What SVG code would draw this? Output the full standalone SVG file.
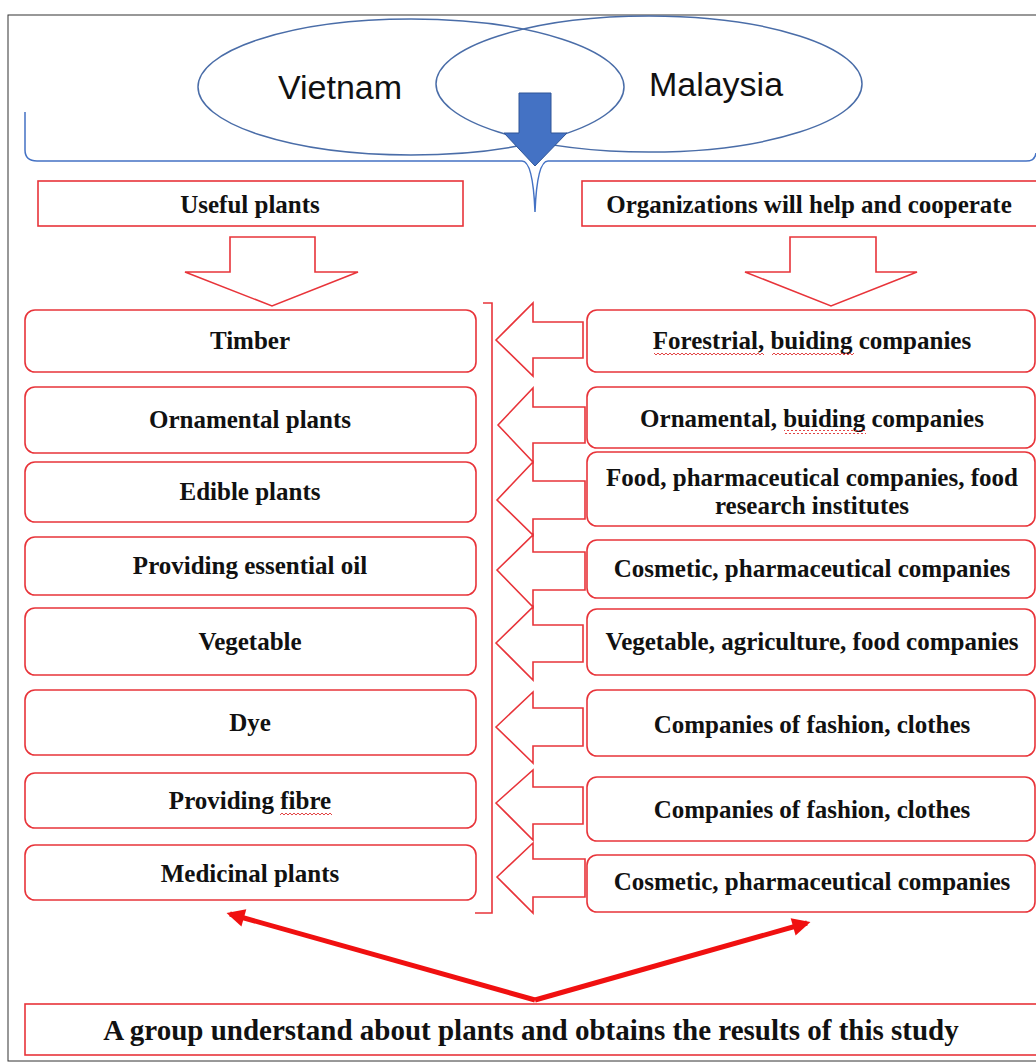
<svg xmlns="http://www.w3.org/2000/svg" width="1036" height="1063" viewBox="0 0 1036 1063">
<style>
.box{fill:#fff;stroke:#E8343A;stroke-width:1.6}
.harrow{fill:#fff;stroke:#E8343A;stroke-width:1.6;stroke-linejoin:miter}
.t{font-family:"Liberation Serif","Times New Roman",serif;font-weight:bold;font-size:25px;fill:#111;text-anchor:middle}
.big{font-family:"Liberation Sans",Arial,sans-serif;font-size:34px;fill:#111;text-anchor:middle}
.ell{fill:none;stroke:#4A6DA8;stroke-width:1.5}
.wave{fill:url(#wv)}
</style>
<defs>
<pattern id="wv" width="4" height="4" patternUnits="userSpaceOnUse">
<path d="M0,3 L2,1 L4,3" fill="none" stroke="#E03030" stroke-width="0.9"/>
</pattern>
<marker id="rh" viewBox="0 0 10 10" refX="8" refY="5" markerWidth="4" markerHeight="3.6" orient="auto" markerUnits="strokeWidth">
<path d="M0,0 L10,5 L0,10 z" fill="#F01010"/>
</marker>
</defs>
<rect x="8" y="15" width="1040" height="1046" fill="none" stroke="#333" stroke-width="1"/>
<g id="top">
<ellipse class="ell" cx="411" cy="87" rx="213" ry="68"/>
<ellipse class="ell" cx="649" cy="84" rx="213" ry="68"/>
<text class="big" x="340" y="99">Vietnam</text>
<text class="big" x="716" y="96">Malaysia</text>
<path d="M25,112 L25,150 Q25,161 37,161 L522,161 Q533,161 535,212 Q537,161 548,161 L1026,161 Q1035,161 1036,153" fill="none" stroke="#4472C4" stroke-width="1.5"/>
<polygon points="519,93 551,93 551,133 567,133 535,166 504,133 519,133" fill="#4472C4" stroke="#2F5597" stroke-width="1"/>
</g>
<g id="header-left"><rect class="box" x="38" y="181" width="425" height="45"/><text class="t" x="250" y="213">Useful plants</text></g>
<g id="header-right"><rect class="box" x="582" y="181" width="460" height="45"/><text class="t" x="809" y="213">Organizations will help and cooperate</text></g>
<g id="connectors">
<polygon class="harrow" points="230,237 315,237 315,272 358,272 272,306 185,272 230,272"/>
<polygon class="harrow" points="790,237 876,237 876,272 917,272 831,306 745,272 790,272"/>
<path d="M483,303 L492,303 L492,913 L475,913" fill="none" stroke="#E8343A" stroke-width="1.6"/>
<polygon class="harrow" points="496,340 533,303 533,322 583,322 583,358 533,358 533,376"/>
<polygon class="harrow" points="498,425 533,388 533,407 585,407 585,443 533,443 533,462"/>
<polygon class="harrow" points="497,500 533,462 533,481 585,481 585,519 533,519 533,535"/>
<polygon class="harrow" points="497,570 533,535 533,552 585,552 585,590 533,590 533,607"/>
<polygon class="harrow" points="496,643 533,607 533,625 583,625 583,662 533,662 533,680"/>
<polygon class="harrow" points="496,727 533,692 533,708 583,708 583,746 533,746 533,763"/>
<polygon class="harrow" points="496,803 533,770 533,787 583,787 583,824 533,824 533,840"/>
<polygon class="harrow" points="497,877 533,843 533,859 585,859 585,897 533,897 533,913"/>
<line x1="535" y1="1000" x2="230" y2="914" stroke="#F01010" stroke-width="5" marker-end="url(#rh)"/>
<line x1="535" y1="1000" x2="807" y2="923" stroke="#F01010" stroke-width="5" marker-end="url(#rh)"/>
</g>
<g id="l1"><rect class="box" x="25" y="310" width="451" height="62" rx="10"/><text class="t" x="250" y="349">Timber</text></g>
<g id="l2"><rect class="box" x="25" y="387" width="451" height="66" rx="10"/><text class="t" x="250" y="428">Ornamental plants</text></g>
<g id="l3"><rect class="box" x="25" y="462" width="451" height="60" rx="10"/><text class="t" x="250" y="500">Edible plants</text></g>
<g id="l4"><rect class="box" x="25" y="537" width="451" height="58" rx="10"/><text class="t" x="250" y="574">Providing essential oil</text></g>
<g id="l5"><rect class="box" x="25" y="608" width="451" height="67" rx="10"/><text class="t" x="250" y="650">Vegetable</text></g>
<g id="l6"><rect class="box" x="25" y="690" width="451" height="65" rx="10"/><text class="t" x="250" y="731">Dye</text></g>
<g id="l7"><rect class="box" x="25" y="773" width="451" height="55" rx="10"/><text class="t" x="250" y="809">Providing fibre</text><rect class="wave" x="280" y="811" width="52" height="4"/></g>
<g id="l8"><rect class="box" x="25" y="845" width="451" height="55" rx="10"/><text class="t" x="250" y="882">Medicinal plants</text></g>
<g id="r1"><rect class="box" x="587" y="310" width="448" height="62" rx="10"/><text class="t" x="812" y="349">Forestrial, buiding companies</text><rect class="wave" x="654" y="352" width="110" height="4"/><rect class="wave" x="772" y="352" width="82" height="4"/></g>
<g id="r2"><rect class="box" x="587" y="387" width="448" height="61" rx="10"/><text class="t" x="812" y="427">Ornamental, buiding companies</text><rect class="wave" x="784" y="430" width="82" height="4"/></g>
<g id="r3"><rect class="box" x="587" y="452" width="448" height="74" rx="10"/><text class="t" x="812" y="486">Food, pharmaceutical companies, food</text><text class="t" x="812" y="514">research institutes</text></g>
<g id="r4"><rect class="box" x="587" y="540" width="448" height="58" rx="10"/><text class="t" x="812" y="577">Cosmetic, pharmaceutical companies</text></g>
<g id="r5"><rect class="box" x="587" y="609" width="448" height="66" rx="10"/><text class="t" x="812" y="650">Vegetable, agriculture, food companies</text></g>
<g id="r6"><rect class="box" x="587" y="690" width="448" height="66" rx="10"/><text class="t" x="812" y="733">Companies of fashion, clothes</text></g>
<g id="r7"><rect class="box" x="587" y="777" width="448" height="64" rx="10"/><text class="t" x="812" y="818">Companies of fashion, clothes</text></g>
<g id="r8"><rect class="box" x="587" y="855" width="448" height="57" rx="10"/><text class="t" x="812" y="890">Cosmetic, pharmaceutical companies</text></g>
<g id="bottom"><rect class="box" x="25" y="1004" width="1020" height="51"/><text class="t" x="531" y="1040" style="font-size:29px">A group understand about plants and obtains the results of this study</text></g>
</svg>
